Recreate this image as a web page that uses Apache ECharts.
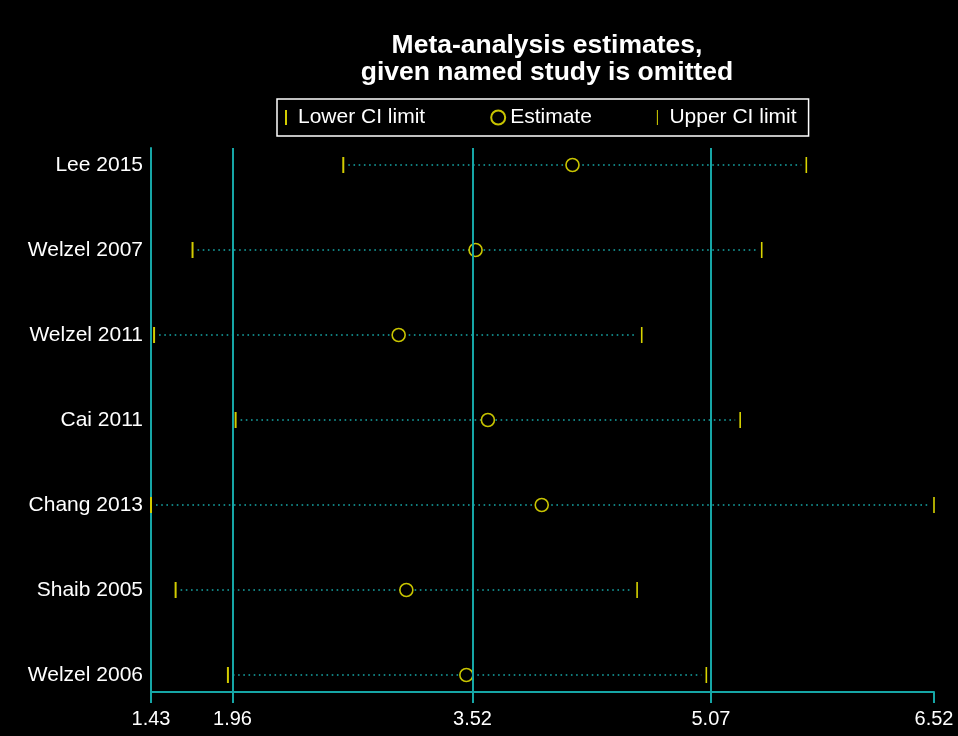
<!DOCTYPE html>
<html>
<head>
<meta charset="utf-8">
<script src="https://cdn.jsdelivr.net/npm/echarts@6/dist/echarts.min.js"></script>
<style>
html,body{margin:0;padding:0;background:#000;}
#chart{width:958px;height:736px;}
</style>
</head>
<body>
<div id="chart"></div>
<script>
// ---- data ----
const studies = ['Lee 2015', 'Welzel 2007', 'Welzel 2011', 'Cai 2011', 'Chang 2013', 'Shaib 2005', 'Welzel 2006'];
const lowerCI = [2.68, 1.70, 1.45, 1.98, 1.43, 1.59, 1.93];
const estimate = [4.17, 3.54, 3.04, 3.62, 3.97, 3.09, 3.48];
const upperCI = [5.69, 5.40, 4.62, 5.26, 6.52, 4.59, 5.04];
const xTicks = [1.43, 1.96, 3.52, 5.07, 6.52];
const refLines = [1.96, 3.52, 5.07];

const TEAL = '#16a6a6';
const FONT = 'Liberation Sans, Arial, sans-serif';

const chart = echarts.init(document.getElementById('chart'));
const idx = studies.map((_, i) => i);

const option = {
  backgroundColor: '#000',
  animation: false,
  title: {
    text: 'Meta-analysis estimates,\ngiven named study is omitted',
    left: 542,
    top: 27,
    textAlign: 'center',
    textStyle: { color: '#fff', fontSize: 26.5, fontWeight: 'bold', fontFamily: FONT, lineHeight: 27 }
  },
  legend: {
    left: 277,
    top: 99,
    orient: 'horizontal',
    borderColor: '#fff',
    borderWidth: 1.5,
    padding: [8, 12, 8, 8],
    itemWidth: 14,
    itemHeight: 15,
    itemGap: 65,
    textStyle: { color: '#fff', fontSize: 21, fontFamily: FONT },
    data: [
      { name: 'Lower CI limit', icon: 'path://M0,0h2v15h-2z' },
      { name: 'Estimate', icon: 'circle' },
      { name: 'Upper CI limit', icon: 'path://M0,0h1v15h-1z' }
    ]
  },
  grid: { left: 151, right: 24, top: 148, bottom: 44 },
  xAxis: {
    type: 'value',
    min: 1.43,
    max: 6.52,
    axisLine: { show: true, onZero: false, lineStyle: { color: TEAL, width: 2 } },
    axisTick: { show: true, customValues: xTicks, length: 11, lineStyle: { color: TEAL, width: 2 } },
    axisLabel: {
      customValues: xTicks,
      color: '#fff', fontSize: 20, fontFamily: FONT, margin: 17,
      formatter: v => Number(v).toFixed(2)
    },
    splitLine: { show: false }
  },
  yAxis: {
    type: 'value',
    min: -0.2,
    max: 6.2,
    inverse: true,
    axisLine: { show: true, onZero: false, lineStyle: { color: TEAL, width: 2 } },
    axisTick: { show: false },
    axisLabel: {
      customValues: idx,
      color: '#fff', fontSize: 21, fontFamily: FONT, margin: 8,
      formatter: v => studies[Math.round(v)] || ''
    },
    splitLine: { show: false }
  },
  series: [
    {
      name: 'CI range',
      type: 'custom',
      silent: true,
      z: 1,
      data: idx.map(i => [lowerCI[i], upperCI[i], i]),
      renderItem: function (params, api) {
        const p1 = api.coord([api.value(0), api.value(2)]);
        const p2 = api.coord([api.value(1), api.value(2)]);
        return {
          type: 'line',
          shape: { x1: p1[0] + 5, y1: p1[1], x2: p2[0] - 5, y2: p2[1] },
          style: { stroke: TEAL, lineWidth: 1.6, lineDash: [1.6, 3.6] }
        };
      },
      markLine: {
        silent: true,
        symbol: 'none',
        label: { show: false },
        lineStyle: { color: TEAL, width: 2, type: 'solid' },
        data: refLines.map(v => ({ xAxis: v }))
      }
    },
    {
      name: 'Lower CI limit',
      type: 'scatter',
      z: 3,
      clip: false,
      symbol: 'rect',
      symbolSize: [2, 16],
      itemStyle: { color: '#d2cc00', opacity: 1 },
      data: idx.map(i => [lowerCI[i], i])
    },
    {
      name: 'Estimate',
      type: 'scatter',
      z: 3,
      clip: false,
      symbol: 'circle',
      symbolSize: 13,
      itemStyle: { color: '#000', borderColor: '#c8c400', borderWidth: 1.6, opacity: 1 },
      data: idx.map(i => [estimate[i], i])
    },
    {
      name: 'Upper CI limit',
      type: 'scatter',
      z: 3,
      clip: false,
      symbol: 'rect',
      symbolSize: [1.6, 16],
      itemStyle: { color: '#d8d400', opacity: 1 },
      data: idx.map(i => [upperCI[i], i])
    }
  ]
};
chart.setOption(option);
</script>
</body>
</html>
